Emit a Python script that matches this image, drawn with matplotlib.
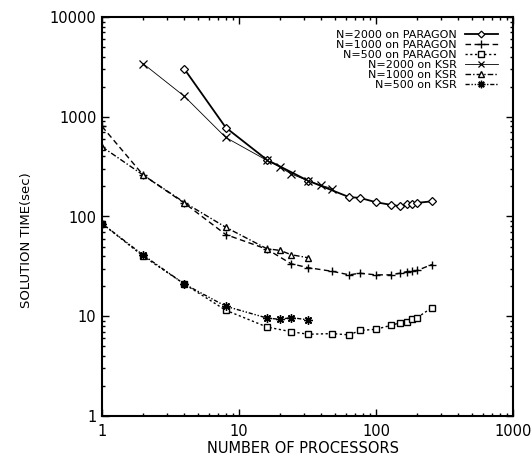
import matplotlib
matplotlib.use("Agg")
import matplotlib.pyplot as plt
from matplotlib.ticker import LogLocator, NullFormatter, FixedLocator, FixedFormatter

plt.rcParams['font.family'] = ['DejaVu Sans']

# ---- data ----
par2000_x = [4, 8, 16, 32, 64, 76, 100, 128, 150, 168, 184, 200, 256]
par2000_y = [3000, 780, 370, 228, 156, 154, 139, 131, 127, 132, 134, 137, 142]

par1000_x = [1, 2, 4, 8, 16, 24, 32, 48, 64, 76, 100, 128, 150, 168, 184, 200, 256]
par1000_y = [800, 260, 136, 66, 47, 33.6, 30.7, 28.2, 26, 27, 26, 26, 27, 28, 28.3, 28.8, 33]

par500_x = [1, 2, 4, 8, 16, 24, 32, 48, 64, 76, 100, 128, 150, 168, 184, 200, 256]
par500_y = [85, 40, 21, 11.5, 7.8, 7.0, 6.6, 6.7, 6.5, 7.2, 7.4, 8.1, 8.6, 8.8, 9.3, 9.7, 12.2]

ksr2000_x = [2, 4, 8, 16, 20, 24, 32, 40, 48]
ksr2000_y = [3400, 1600, 620, 365, 312, 267, 228, 205, 190]

ksr1000_x = [1, 2, 4, 8, 16, 20, 24, 32]
ksr1000_y = [500, 260, 138, 78, 47.5, 45.7, 41.4, 38.6]

ksr500_x = [1, 2, 4, 8, 16, 20, 24, 32]
ksr500_y = [85, 41, 21, 12.6, 9.6, 9.3, 9.7, 9.2]

labels = ["N=2000 on PARAGON", "N=1000 on PARAGON", "N=500 on PARAGON",
          "N=2000 on KSR", "N=1000 on KSR", "N=500 on KSR"]
x_ticks = [1, 10, 100, 1000]
x_ticklabels = ["1", "10", "100", "1000"]
y_ticks = [1, 10, 100, 1000, 10000]
y_ticklabels = ["1", "10", "100", "1000", "10000"]

fig = plt.figure(figsize=(5.32, 4.65), dpi=100)
ax = fig.add_axes([102/532, 1-416/465, 411/532, 399/465])

ms = 4.5
ax.plot(par2000_x, par2000_y, color='black', lw=1.3, ls='-', marker='D', ms=3.8,
        mfc='white', mec='black', mew=0.9, label=labels[0])
ax.plot(par1000_x, par1000_y, color='black', lw=1.0, ls=(0, (4, 2.5)), marker='+', ms=6,
        mew=1.0, label=labels[1])
ax.plot(par500_x, par500_y, color='black', lw=1.0, ls=(0, (1.6, 1.8)), marker='s', ms=ms,
        mfc='white', mec='black', mew=1.0, label=labels[2])
ax.plot(ksr2000_x, ksr2000_y, color='black', lw=0.6, ls='-', marker='x', ms=5.5,
        mew=0.9, label=labels[3])
ax.plot(ksr1000_x, ksr1000_y, color='black', lw=1.0, ls=(0, (4, 1.5, 1, 1.5)), marker='^', ms=ms,
        mfc='white', mec='black', mew=1.0, label=labels[4])
ax.plot(ksr500_x, ksr500_y, color='black', lw=1.0, ls=(0, (3, 1.3, 1, 1.3, 1, 1.3)), marker=(8, 2, 0), ms=6,
        mew=1.0, label=labels[5])

ax.set_xscale('log')
ax.set_yscale('log')
ax.set_xlim(1, 1000)
ax.set_ylim(1, 10000)

ax.xaxis.set_major_locator(FixedLocator(x_ticks))
ax.xaxis.set_major_formatter(FixedFormatter(x_ticklabels))
ax.yaxis.set_major_locator(FixedLocator(y_ticks))
ax.yaxis.set_major_formatter(FixedFormatter(y_ticklabels))
ax.xaxis.set_minor_locator(LogLocator(base=10, subs=range(2, 10), numticks=20))
ax.yaxis.set_minor_locator(LogLocator(base=10, subs=range(2, 10), numticks=20))
ax.xaxis.set_minor_formatter(NullFormatter())
ax.yaxis.set_minor_formatter(NullFormatter())

ax.tick_params(which='both', direction='in', top=True, right=True, width=1.0, labelsize=10.5)
ax.tick_params(which='major', length=5)
ax.tick_params(which='minor', length=2.5)
ax.tick_params(axis='x', which='major', pad=6)
ax.tick_params(axis='y', which='major', pad=4)
for s in ax.spines.values():
    s.set_linewidth(1.5)

ax.set_xlabel("NUMBER OF PROCESSORS", fontsize=10.5)
ax.set_ylabel("SOLUTION TIME(sec)", fontsize=9.5)
ax.xaxis.set_label_coords(0.49, -0.063)
ax.yaxis.set_label_coords(-0.167, 0.441)

leg = ax.legend(loc='upper right', bbox_to_anchor=(0.9635, 0.968), frameon=False,
                markerfirst=False, fontsize=8, handlelength=3.0, handletextpad=0.7,
                labelspacing=0.0, borderpad=0, borderaxespad=0, markerscale=0.9)

fig.savefig("out.png", dpi=100)
